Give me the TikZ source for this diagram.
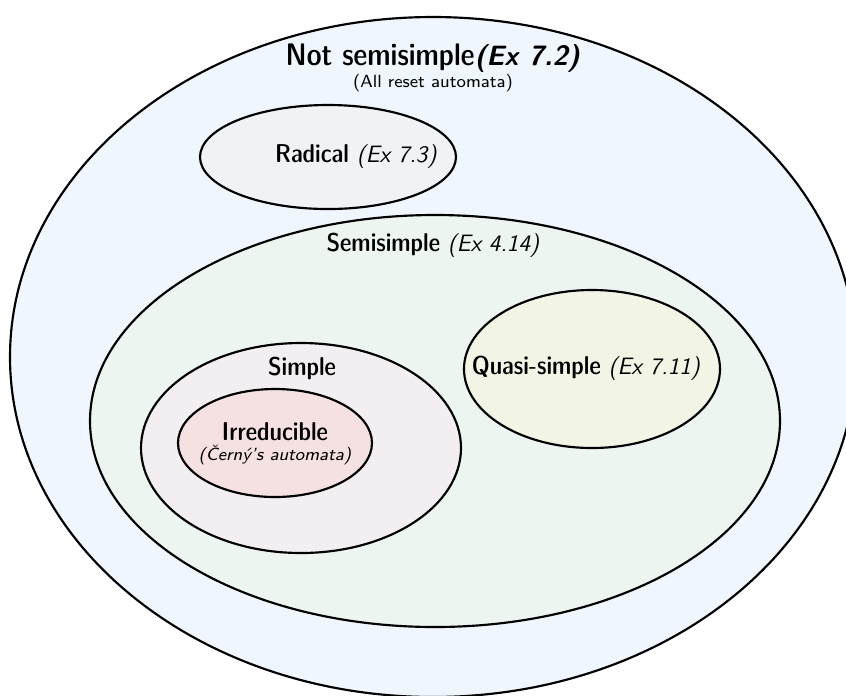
\documentclass[tikz,border=0pt]{standalone}
\usepackage{tikz}
\definecolor{outerc}{HTML}{F0F6FD}
\definecolor{radc}{HTML}{EFF3F6}
\definecolor{semic}{HTML}{ECF5F0}
\definecolor{simpc}{HTML}{F3EEF1}
\definecolor{irrc}{HTML}{F5E1E2}
\definecolor{quasc}{HTML}{F2F5E5}
\newcommand{\mw}[1]{{\fontsize{12}{14}\fontseries{sbc}\selectfont #1}}
\tikzset{
  setline/.style={draw=black, line width=1pt},
  lbl/.style={font=\sffamily\fontsize{11}{13}\selectfont, inner sep=1pt},
  sublbl/.style={font=\sffamily\fontsize{8.2}{10}\selectfont, inner sep=1pt},
}
\begin{document}
\begin{tikzpicture}[x=0.465pt, y=-0.465pt]
\useasboundingbox (0,0) rectangle (846,695);
\clip (0,0) rectangle (846,695);
% outer
\draw[setline, fill=outerc] (433,357) ellipse (423 and 340);
\draw[setline, fill=radc] (328,157) ellipse (128 and 52);
\draw[setline, fill=semic] (435,421) ellipse (345 and 206);
\draw[setline, fill=simpc] (301,448) ellipse (160 and 105);
\draw[setline, fill=irrc] (275,443) ellipse (97 and 54);
\draw[setline, fill=quasc] (592,369) ellipse (128 and 79);
% labels
\node[lbl] (ns) at (433,58) {{\fontsize{14.5}{17}\fontseries{sbc}\selectfont Not semisimple}{\fontsize{13}{16}\selectfont\textbf{\textit{(Ex 7.2)}}}};
\node[sublbl] (nsr) at (433,83) {(All reset automata)};
\node[lbl] (rad) at (356,157) {\mw{Radical} \textit{(Ex 7.3)}};
\node[lbl] (semi) at (433,245) {\mw{Semisimple} \textit{(Ex 4.14)}};
\node[lbl] (simp) at (302,368) {\mw{Simple}};
\node[lbl] (irr) at (275,432) {\mw{Irreducible}};
\node[sublbl] (irrs) at (275,455) {\textit{(Černý's automata)}};
\node[lbl] (quas) at (586,368) {\mw{Quasi-simple} \textit{(Ex 7.11)}};
\end{tikzpicture}
\end{document}
